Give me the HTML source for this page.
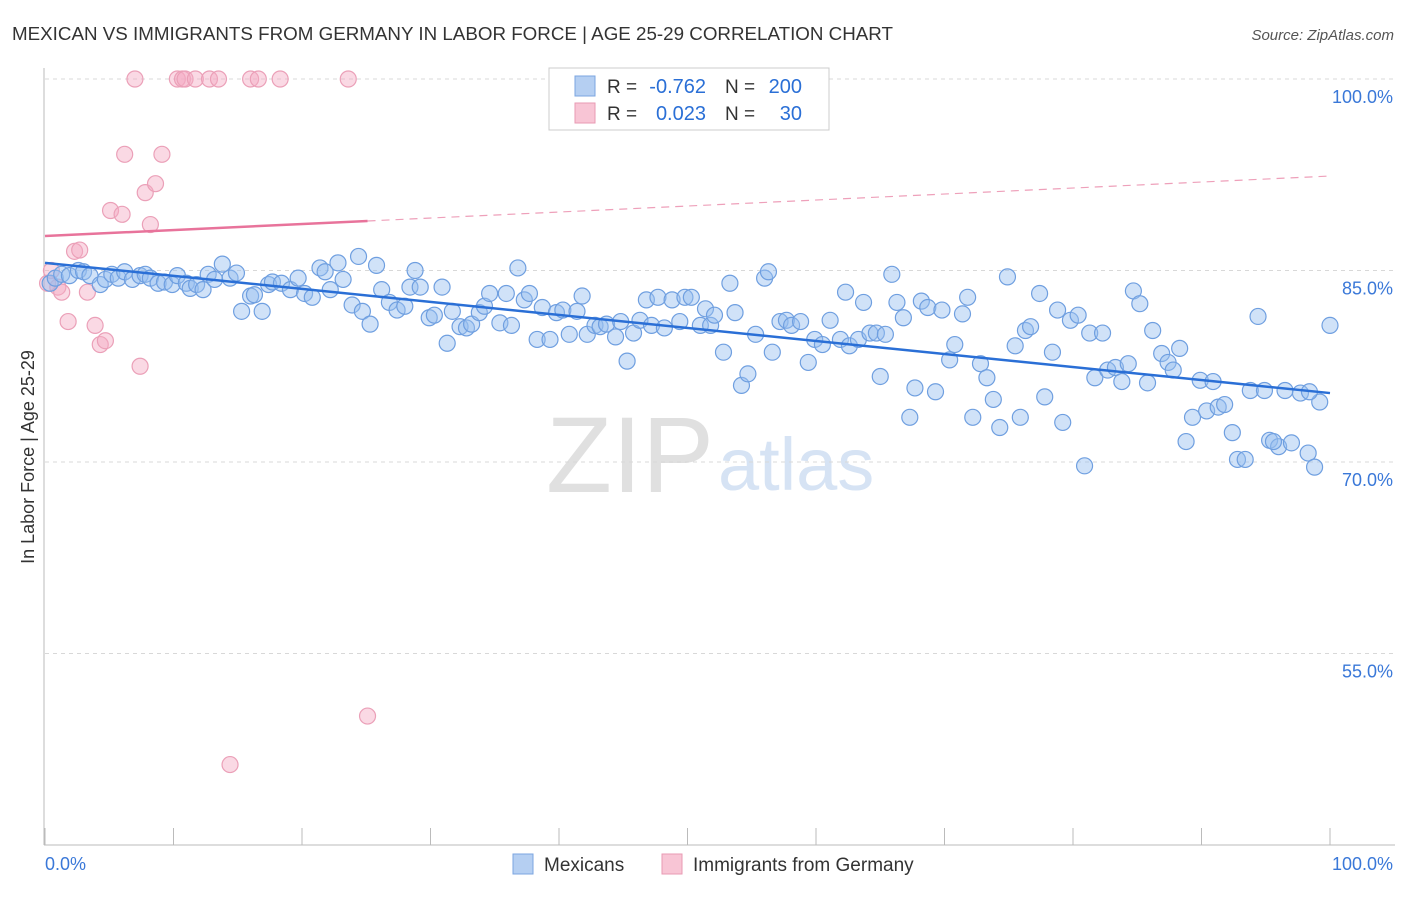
<!DOCTYPE html>
<html><head><meta charset="utf-8">
<style>
body{margin:0;background:#fff;font-family:"Liberation Sans",sans-serif;}
svg text{font-family:"Liberation Sans",sans-serif;}
</style></head>
<body>
<svg id="chart" width="1406" height="892">
<text x="12" y="40" font-size="18" fill="#333" textLength="881" lengthAdjust="spacingAndGlyphs">MEXICAN VS IMMIGRANTS FROM GERMANY IN LABOR FORCE | AGE 25-29 CORRELATION CHART</text>
<text x="1394" y="40" font-size="15" fill="#555" font-style="italic" text-anchor="end">Source: ZipAtlas.com</text>
<text x="714" y="492" font-size="108" fill="#e0e0e0" text-anchor="end" font-family="Liberation Serif">ZIP</text>
<text x="718" y="490" font-size="74" fill="#d6e3f4">atlas</text>
<g id="grid"></g>
<g id="axes"></g>
<g id="marks"></g>
<text transform="translate(34,457) rotate(-90)" font-size="18" fill="#333" text-anchor="middle">In Labor Force | Age 25-29</text>
<g>
<rect x="549" y="68" width="280" height="62" fill="#fff" stroke="#ccc"/>
<rect x="575" y="76" width="20" height="20" fill="#b5cff2" stroke="#7ba5e0"/>
<rect x="575" y="103" width="20" height="20" fill="#f8c5d5" stroke="#e89ab3"/>
<text x="607" y="93" font-size="19" fill="#333">R =</text>
<text x="706" y="93" font-size="20" fill="#2a6fd6" text-anchor="end">-0.762</text>
<text x="725" y="93" font-size="19" fill="#333">N =</text>
<text x="802" y="93" font-size="20" fill="#2a6fd6" text-anchor="end">200</text>
<text x="607" y="120" font-size="19" fill="#333">R =</text>
<text x="706" y="120" font-size="20" fill="#2a6fd6" text-anchor="end">0.023</text>
<text x="725" y="120" font-size="19" fill="#333">N =</text>
<text x="802" y="120" font-size="20" fill="#2a6fd6" text-anchor="end">30</text>
</g>
<g>
<rect x="513" y="854" width="20" height="20" fill="#b5cff2" stroke="#7ba5e0"/>
<text x="544" y="871" font-size="19" fill="#333">Mexicans</text>
<rect x="662" y="854" width="20" height="20" fill="#f8c5d5" stroke="#e89ab3"/>
<text x="693" y="871" font-size="19" fill="#333">Immigrants from Germany</text>
</g>
</svg>
<script>
const blueX=[0.4,0.8,1.3,1.9,2.6,3.0,3.5,4.3,4.7,5.2,5.7,6.2,6.8,7.4,7.8,8.2,8.8,9.3,9.9,10.3,11.0,11.3,11.8,12.3,12.7,13.2,13.8,14.4,14.9,15.3,16.0,16.3,16.9,17.4,17.7,18.4,19.1,19.7,20.2,20.8,21.4,21.8,22.2,22.8,23.2,23.9,24.4,24.7,25.3,25.8,26.2,26.8,27.4,28.0,28.8,28.4,29.2,29.9,30.3,30.9,31.3,31.7,32.3,32.8,33.2,33.8,34.2,34.6,35.4,35.9,36.3,36.8,37.3,37.7,38.3,38.7,39.3,39.8,40.3,40.8,41.4,41.8,42.2,42.8,43.2,43.7,44.4,44.8,45.3,45.8,46.3,46.8,47.2,47.7,48.2,48.8,49.4,49.8,50.3,51.0,51.4,51.8,52.1,52.8,53.3,53.7,54.2,54.7,55.3,56.0,56.3,56.6,57.2,57.7,58.1,58.8,59.4,59.9,60.5,61.1,61.9,62.3,62.6,63.3,63.7,64.2,64.7,65.0,65.4,65.9,66.3,66.8,67.3,67.7,68.2,68.7,69.3,69.8,70.4,70.8,71.4,71.8,72.2,72.8,73.3,73.8,74.3,74.9,75.5,75.9,76.3,76.7,77.4,77.8,78.4,78.8,79.2,79.8,80.4,80.9,81.3,81.7,82.3,82.7,83.3,83.8,84.3,84.7,85.2,85.8,86.2,86.9,87.4,87.8,88.3,88.8,89.3,89.9,90.4,90.9,91.3,91.8,92.4,92.8,93.4,93.8,94.4,94.9,95.3,96.0,96.5,97.0,97.7,98.3,98.8,99.2,100.0,98.4,95.6];
const blueY=[84.0,84.4,84.7,84.6,85.0,84.9,84.6,83.9,84.3,84.7,84.4,84.9,84.3,84.6,84.7,84.4,84.0,84.1,83.9,84.6,84.0,83.6,83.9,83.5,84.7,84.3,85.5,84.4,84.8,81.8,83.0,83.1,81.8,83.9,84.1,84.0,83.5,84.4,83.2,82.9,85.2,84.9,83.5,85.6,84.3,82.3,86.1,81.8,80.8,85.4,83.5,82.5,81.9,82.2,85.0,83.7,83.7,81.3,81.5,83.7,79.3,81.8,80.6,80.5,80.8,81.7,82.2,83.2,80.9,83.2,80.7,85.2,82.7,83.2,79.6,82.1,79.6,81.7,81.9,80.0,81.8,83.0,80.0,80.7,80.6,80.8,79.8,81.0,77.9,80.1,81.1,82.7,80.7,82.9,80.5,82.7,81.0,82.9,82.9,80.7,82.0,80.7,81.5,78.6,84.0,81.7,76.0,76.9,80.0,84.4,84.9,78.6,81.0,81.1,80.7,81.0,77.8,79.6,79.2,81.1,79.6,83.3,79.1,79.6,82.5,80.1,80.1,76.7,80.0,84.7,82.5,81.3,73.5,75.8,82.6,82.1,75.5,81.9,78.0,79.2,81.6,82.9,73.5,77.7,76.6,74.9,72.7,84.5,79.1,73.5,80.3,80.6,83.2,75.1,78.6,81.9,73.1,81.1,81.5,69.7,80.1,76.6,80.1,77.2,77.4,76.3,77.7,83.4,82.4,76.2,80.3,78.5,77.8,77.2,78.9,71.6,73.5,76.4,74.0,76.3,74.3,74.5,72.3,70.2,70.2,75.6,81.4,75.6,71.7,71.2,75.6,71.5,75.4,70.7,69.6,74.7,80.7,75.5,71.6];
const pinkX=[0.2,0.5,1.0,1.3,1.8,2.3,2.7,3.3,3.9,4.3,4.7,5.1,6.0,6.2,7.0,7.4,7.8,8.2,8.6,9.1,10.3,10.7,10.9,11.7,12.8,13.5,16.0,16.6,18.3,23.6,25.1,14.4];
const pinkY=[84.0,85.0,83.7,83.3,81.0,86.5,86.6,83.3,80.7,79.2,79.5,89.7,89.4,94.1,100,77.5,91.1,88.6,91.8,94.1,100,100,100,100,100,100,100,100,100,100,50.1,46.3];
const blueTrend=[85.6,75.4];
const pinkTrend=[87.7,92.4];
const pinkSolidEnd=25.1;
const yTicks=[100,85,70,55];
const xTicks=[0,10,20,30,40,50,60,70,80,90,100];

const NS="http://www.w3.org/2000/svg";
const X0=45,X1=1330,Y100=79,PX15=191.5;
const sx=v=>X0+(X1-X0)*v/100;
const sy=v=>Y100+(100-v)/15*PX15;
function mk(tag,attrs,parent){const e=document.createElementNS(NS,tag);for(const k in attrs)e.setAttribute(k,attrs[k]);parent.appendChild(e);return e;}
const grid=document.getElementById('grid'),axes=document.getElementById('axes'),marks=document.getElementById('marks');
yTicks.forEach(t=>{
  const l=mk('line',{x1:45,x2:1395,y1:sy(t),y2:sy(t),stroke:'#d8d8d8','stroke-dasharray':'4,4'},grid);
  
  
  const tx=mk('text',{x:1393,y:sy(t)+24,'font-size':18,fill:'#3a78d8','text-anchor':'end'},axes);
  tx.textContent=t.toFixed(1)+'%';
  
  
});
mk('line',{x1:44,x2:44,y1:68,y2:845,stroke:'#bbb'},axes);
mk('line',{x1:44,x2:1395,y1:845,y2:845,stroke:'#bbb'},axes);
xTicks.forEach(t=>{
  const l=mk('line',{x1:sx(t),x2:sx(t),y1:828,y2:845,stroke:'#bbb'},axes);
  
  
});
const xl0=mk('text',{x:45,y:870,'font-size':18,fill:'#3a78d8'},axes);xl0.textContent='0.0%';


const xl1=mk('text',{x:1393,y:870,'font-size':18,fill:'#3a78d8','text-anchor':'end'},axes);xl1.textContent='100.0%';



pinkX.forEach((x,i)=>{
  const c=mk('circle',{cx:sx(x),cy:sy(pinkY[i]),r:8,fill:'rgba(245,170,195,0.45)',stroke:'#eba0b8','stroke-width':1.2},marks);
  
  
});
blueX.forEach((x,i)=>{
  const c=mk('circle',{cx:sx(x),cy:sy(blueY[i]),r:8,fill:'rgba(150,190,240,0.45)',stroke:'#6f9fe0','stroke-width':1.2},marks);
  
  
});
const bl=mk('line',{x1:sx(0),y1:sy(blueTrend[0]),x2:sx(100),y2:sy(blueTrend[1]),stroke:'#2a6fd6','stroke-width':2.5},marks);


const pv=x=>pinkTrend[0]+(pinkTrend[1]-pinkTrend[0])*x/100;
const pl=mk('line',{x1:sx(0),y1:sy(pinkTrend[0]),x2:sx(pinkSolidEnd),y2:sy(pv(pinkSolidEnd)),stroke:'#e8739b','stroke-width':2.5},marks);


const pd=mk('line',{x1:sx(pinkSolidEnd),y1:sy(pv(pinkSolidEnd)),x2:sx(100),y2:sy(pinkTrend[1]),stroke:'#eea0ba','stroke-width':1.2,'stroke-dasharray':'8,6'},marks);


</script>
</body></html>
